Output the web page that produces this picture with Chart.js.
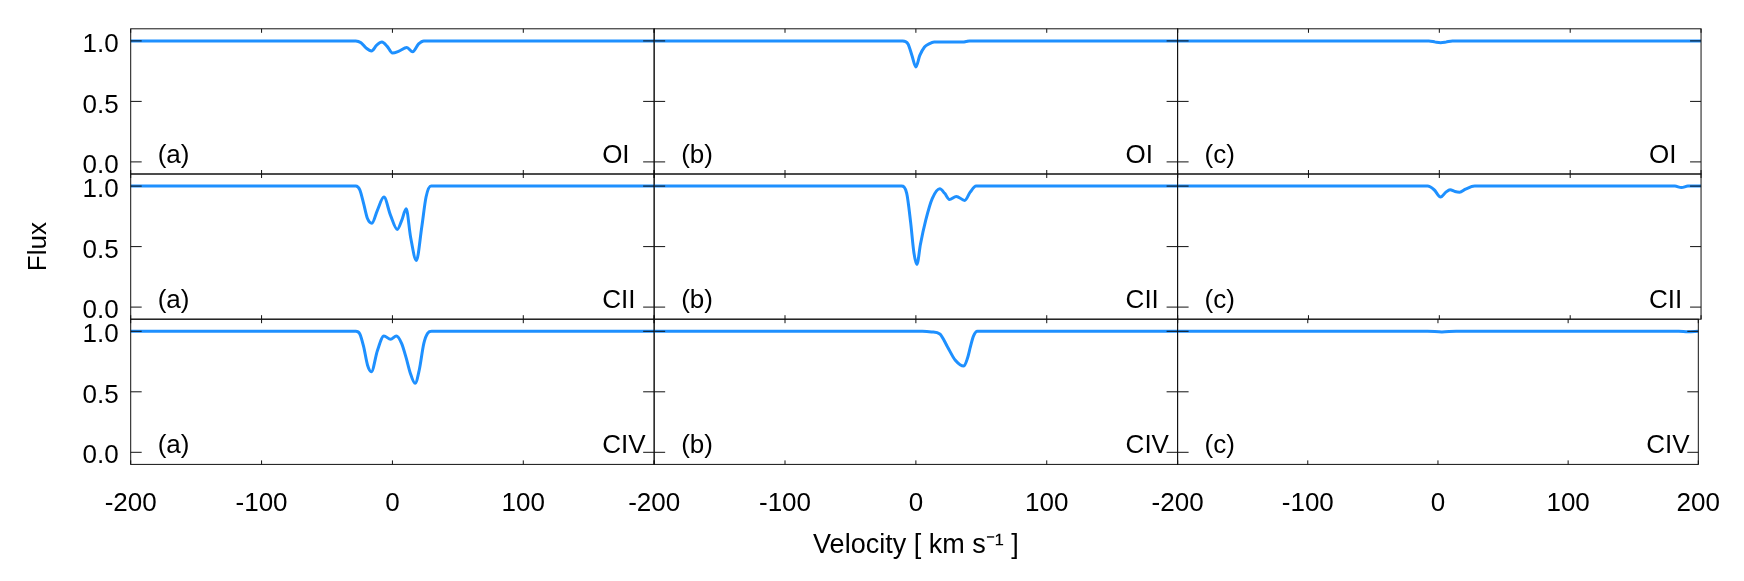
<!DOCTYPE html>
<html lang="en">
<head>
<meta charset="UTF-8">
<title>Flux vs velocity</title>
<script src="https://cdn.jsdelivr.net/npm/chart.js"></script>
<style>
  body { margin: 0; background: #fff; }
  #wrap { position: relative; width: 1744px; height: 581px; }
  #wrap canvas { position: absolute; left: 0; top: 0; }
</style>
</head>
<body>
<div id="wrap"></div>
<script>
// velocity (km/s) and normalised flux, one pair per panel
const velOIa  = [-200, -28, -24, -20, -16, -12, -8, -4, 0, 5, 11, 15.5, 20, 24, 200];
const fluxOIa = [1, 1, 0.985, 0.94, 0.917, 0.965, 0.99, 0.955, 0.9, 0.915, 0.945, 0.91, 0.975, 1, 1];
const velOIb  = [-200, -10, -6, -3, 0, 3, 6.6, 10, 14, 36, 38.5, 41, 200];
const fluxOIb = [1, 1, 0.975, 0.88, 0.785, 0.88, 0.95, 0.975, 0.99, 0.99, 0.995, 1, 1];
const velOIc  = [-200, -8, -3, 1, 5, 10, 200];
const fluxOIc = [1, 1, 0.99, 0.985, 0.99, 1, 1];

const velCIIa  = [-200, -28, -25, -22, -19, -15.7, -11.5, -6.5, -1.5, 3.7, 7.1, 10.5, 13.9, 18.3, 22.4, 25.7, 29.5, 200];
const fluxCIIa = [1, 1, 0.97, 0.855, 0.73, 0.694, 0.8, 0.909, 0.76, 0.642, 0.716, 0.813, 0.578, 0.386, 0.66, 0.91, 1, 1];
const velCIIb  = [-200, -11, -7, -4, -1.5, 0.8, 3.5, 7.5, 12.5, 18.3, 22, 25.6, 30.9, 37.3, 41.5, 46, 200];
const fluxCIIb = [1, 1, 0.94, 0.7, 0.45, 0.353, 0.52, 0.716, 0.896, 0.978, 0.94, 0.89, 0.915, 0.882, 0.95, 1, 1];
const velCIIc  = [-200, -9, -4, 1, 5, 8.2, 12, 15.5, 20, 27, 180, 185, 190, 200];
const fluxCIIc = [1, 1, 0.97, 0.909, 0.95, 0.97, 0.955, 0.95, 0.975, 1, 1, 0.988, 1, 1];

const velCIVa  = [-200, -28, -25, -22, -19, -16.1, -11.5, -6.5, -1.4, 3, 7, 10.5, 13.5, 17.3, 20.5, 24, 27, 30, 200];
const fluxCIVa = [1, 1, 0.98, 0.873, 0.72, 0.666, 0.84, 0.961, 0.934, 0.961, 0.9, 0.78, 0.66, 0.57, 0.68, 0.9, 0.985, 1, 1];
const velCIVb  = [-200, 5, 12, 18.3, 24.1, 30, 36.7, 39.5, 41.7, 44, 47, 200];
const fluxCIVb = [1, 1, 0.995, 0.978, 0.873, 0.763, 0.713, 0.78, 0.873, 0.96, 1, 1];
const velCIVc  = [-200, -8, 3, 14, 185, 192, 200];
const fluxCIVc = [1, 1, 0.995, 1, 1, 0.996, 1];

const ions = ['OI', 'CII', 'CIV'];
const tags = ['(a)', '(b)', '(c)'];
const xTicks = [-200, -100, 0, 100, 200];
const yTicks = [0.0, 0.5, 1.0];

const panels = [
    [[velOIa, fluxOIa], [velOIb, fluxOIb], [velOIc, fluxOIc]],
    [[velCIIa, fluxCIIa], [velCIIb, fluxCIIb], [velCIIc, fluxCIIc]],
    [[velCIVa, fluxCIVa], [velCIVb, fluxCIVb], [velCIVc, fluxCIVc]]
];

Chart.defaults.font.family = '"Liberation Sans", Arial, sans-serif';
Chart.defaults.font.size = 26;
Chart.defaults.color = '#000';

// box, inward ticks and panel labels
const panelFrame = {
    id: 'panelFrame',
    afterDatasetsDraw(chart, args, opts) {
        const { ctx, chartArea: a, scales: { x, y } } = chart;
        ctx.save();
        ctx.strokeStyle = '#111';
        ctx.lineWidth = 1;
        ctx.strokeRect(a.left, a.top, a.right - a.left, a.bottom - a.top);
        ctx.beginPath();
        y.ticks.forEach(t => {
            const py = y.getPixelForValue(t.value);
            ctx.moveTo(a.left, py); ctx.lineTo(a.left + 11, py);
            ctx.moveTo(a.right - 11, py); ctx.lineTo(a.right, py);
        });
        x.ticks.forEach(t => {
            const px = x.getPixelForValue(t.value);
            ctx.moveTo(px, a.top); ctx.lineTo(px, a.top + 4);
            ctx.moveTo(px, a.bottom - 4); ctx.lineTo(px, a.bottom);
        });
        ctx.stroke();
        const base = y.getPixelForValue(0) + 1;
        ctx.fillStyle = '#000';
        ctx.font = '26px "Liberation Sans", Arial, sans-serif';
        ctx.textBaseline = 'alphabetic';
        ctx.textAlign = 'left';
        ctx.fillText(opts.tag, a.left + 27, base);
        ctx.fillText(opts.ion, a.right - 52, base);
        ctx.restore();
    }
};

const W = 1744, H = 581;
const LEFT = 130.7, PW = 523.45, TOP = 28.8, PH = 145.2;
const wrap = document.getElementById('wrap');

for (let r = 0; r < 3; r++) {
    for (let c = 0; c < 3; c++) {
        const left = LEFT + c * PW, top = TOP + r * PH;
        const yW = c === 0 ? 110 : 0;
        const xH = r === 2 ? H - (top + PH) : 0;
        const [vel, flux] = panels[r][c];

        const canvas = document.createElement('canvas');
        canvas.width = W;
        canvas.height = H;
        wrap.appendChild(canvas);

        new Chart(canvas.getContext('2d'), {
            type: 'line',
            data: {
                datasets: [{
                    data: vel.map((v, i) => ({ x: v, y: flux[i] })),
                    borderColor: '#1E90FF',
                    borderWidth: 3,
                    pointRadius: 0,
                    cubicInterpolationMode: 'monotone',
                    fill: false
                }]
            },
            options: {
                responsive: false,
                animation: false,
                layout: {
                    padding: { left: left - yW, top: top, right: W - (left + PW), bottom: H - (top + PH) - xH }
                },
                plugins: {
                    legend: { display: false },
                    tooltip: { enabled: false },
                    panelFrame: { tag: tags[c], ion: ions[r] }
                },
                scales: {
                    x: {
                        type: 'linear',
                        min: -200,
                        max: 200,
                        grid: { display: false, drawTicks: false },
                        border: { display: false },
                        afterBuildTicks: s => { s.ticks = xTicks.map(v => ({ value: v })); },
                        afterFit: s => { s.height = xH; },
                        ticks: {
                            display: r === 2,
                            padding: 24,
                            maxRotation: 0,
                            autoSkip: false,
                            callback: v => (v === 200 && c < 2) ? '' : String(v)
                        },
                        title: {
                            display: r === 2 && c === 1,
                            text: 'Velocity [ km s\u207B\u00B9 ]',
                            font: { size: 27 },
                            padding: { top: 0, bottom: 19 }
                        }
                    },
                    y: {
                        min: -0.1,
                        max: 1.1,
                        grid: { display: false, drawTicks: false },
                        border: { display: false },
                        afterBuildTicks: s => { s.ticks = yTicks.map(v => ({ value: v })); },
                        afterFit: s => { s.width = yW; },
                        ticks: {
                            display: c === 0,
                            padding: 12,
                            labelOffset: 4,
                            callback: v => v.toFixed(1)
                        },
                        title: {
                            display: r === 1 && c === 0,
                            text: 'Flux',
                            padding: { top: 3, bottom: 0 }
                        }
                    }
                }
            },
            plugins: [panelFrame]
        });
    }
}
</script>
</body>
</html>
